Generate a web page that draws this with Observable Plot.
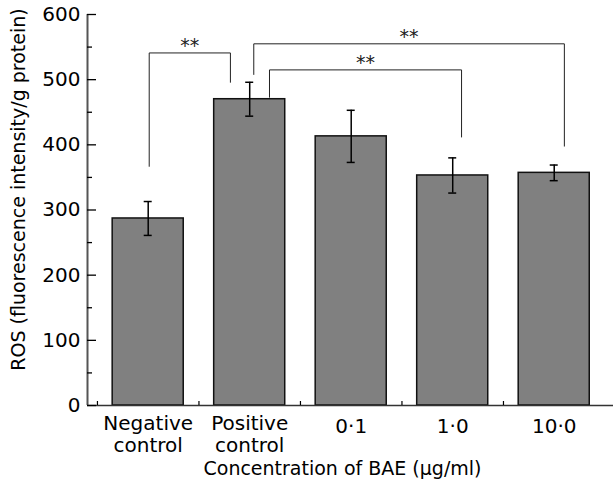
<!DOCTYPE html>
<html><head><meta charset="utf-8">
<script src="https://cdn.jsdelivr.net/npm/d3@7"></script>
<script src="https://cdn.jsdelivr.net/npm/@observablehq/plot@0.6"></script>
<style>html,body{margin:0;padding:0;background:#fff;overflow:hidden}</style>
</head><body><div id="chart"></div>
<script>
const categories = ["Negative\ncontrol", "Positive\ncontrol", "0·1", "1·0", "10·0"];
const positions = [1, 2, 3, 4, 5];
const means = [287, 470, 413, 353, 357];
const errors = [26, 26, 40, 27, 12];
const yTicks = [0, 100, 200, 300, 400, 500, 600];
const yMinorTicks = [50, 150, 250, 350, 450, 550];
const xMinorTicks = [0.5, 1.5, 2.5, 3.5, 4.5];
const bracketFrom = [1.01, 2.04, 2.195];
const bracketTo = [1.81, 5.10, 4.087];
const bracketLeftY = [367, 508, 473];
const bracketTopY = [541, 555, 515];
const bracketRightY = [496, 398, 412];
const bracketLabels = ["**", "**", "**"];
const xTitle = "Concentration of BAE (μg/ml)";
const yTitle = "ROS (fluorescence intensity/g protein)";

const xDomain = [0.402, 5.584];
const bars = positions.map((x, i) => ({x, label: categories[i], mean: means[i], err: errors[i]}));
const caps = bars.flatMap(d => [{x: d.x, y: d.mean - d.err}, {x: d.x, y: d.mean + d.err}]);
const bracketPts = bracketFrom.flatMap((x1, i) => [
  {id: i, x: x1, y: bracketLeftY[i]},
  {id: i, x: x1, y: bracketTopY[i]},
  {id: i, x: bracketTo[i], y: bracketTopY[i]},
  {id: i, x: bracketTo[i], y: bracketRightY[i]}
]);
const bracketText = bracketFrom.map((x1, i) => ({x: (x1 + bracketTo[i]) / 2, y: bracketTopY[i], t: bracketLabels[i]}));

const chart = Plot.plot({
  width: 613, height: 489,
  marginLeft: 87, marginRight: 0, marginTop: 14, marginBottom: 84,
  style: {fontFamily: "DejaVu Sans", fontSize: "20px", background: "#fff", color: "#000"},
  x: {type: "linear", domain: xDomain, axis: null},
  y: {domain: [0, 600], axis: null},
  marks: [
    Plot.rectY(bars, {x1: d => d.x - 0.35, x2: d => d.x + 0.35, y1: 0, y2: "mean", fill: "#808080", stroke: "#111", strokeWidth: 1.5}),
    Plot.ruleX(bars, {x: "x", y1: d => d.mean - d.err, y2: d => d.mean + d.err, stroke: "#000", strokeWidth: 1.5}),
    Plot.ruleY(caps, {y: "y", x1: "x", x2: "x", insetLeft: -4, insetRight: -4, stroke: "#000", strokeWidth: 1.5}),
    Plot.line(bracketPts, {x: "x", y: "y", z: "id", stroke: "#222", strokeWidth: 1, curve: "linear"}),
    Plot.text(bracketText, {x: "x", y: "y", text: "t", dy: -7, fontSize: 19, fill: "#222"}),
    Plot.ruleX([xDomain[0]], {stroke: "#555", strokeWidth: 2}),
    Plot.ruleY([0], {stroke: "#333", strokeWidth: 1.5}),
    Plot.ruleY(yTicks, {y: d => d, x1: xDomain[0], x2: xDomain[0], insetRight: -9, stroke: "#000", strokeWidth: 1.3}),
    Plot.ruleY(yMinorTicks, {y: d => d, x1: xDomain[0], x2: xDomain[0], insetRight: -5, stroke: "#000", strokeWidth: 1.3}),
    Plot.ruleX(xMinorTicks, {x: d => d, y1: 0, y2: 0, insetTop: -4, stroke: "#000", strokeWidth: 1.2}),
    Plot.axisY({ticks: yTicks, tickSize: 0, tickPadding: 7, label: null, tickFormat: d => String(d)}),
    Plot.text(bars.filter(d => d.label.includes("\n")), {x: "x", y: 0, text: "label", lineAnchor: "top", dy: 9, lineHeight: 1.1}),
    Plot.text(bars.filter(d => !d.label.includes("\n")), {x: "x", y: 0, text: "label", lineAnchor: "top", dy: 13}),
    Plot.text([xTitle], {frameAnchor: "bottom", text: d => d, lineAnchor: "top", fontSize: 19, dx: -8, dy: 56}),
    Plot.text([yTitle], {frameAnchor: "left", text: d => d, textAnchor: "middle", rotate: -90, fontSize: 19, dx: -69, dy: -20.5})
  ]
});
document.getElementById("chart").appendChild(chart);
</script>
</body></html>
